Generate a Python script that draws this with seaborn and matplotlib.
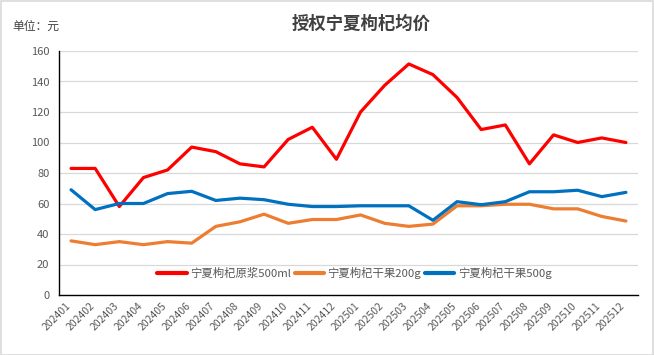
import matplotlib
matplotlib.use("Agg")
import matplotlib.pyplot as plt
import matplotlib.transforms as mtransforms
import seaborn as sns
import pandas as pd
import numpy as np

months = ["202401","202402","202403","202404","202405","202406","202407","202408",
          "202409","202410","202411","202412","202501","202502","202503","202504",
          "202505","202506","202507","202508","202509","202510","202511","202512"]
yuanjiang_500ml = [83, 83, 58, 77, 82, 97, 94, 86, 84, 102, 110, 89,
                   120, 137.5, 151.5, 144.5, 129.5, 108.5, 111.5, 86, 105, 100, 103, 100]
ganguo_200g = [35.5, 33, 35, 33, 35, 34, 45, 48, 53, 47, 49.5, 49.5,
               52.5, 47, 45, 46.5, 58.5, 58.5, 59.5, 59.5, 56.5, 56.5, 51.5, 48.5]
ganguo_500g = [69, 56, 60, 60, 66.5, 68, 62, 63.5, 62.5, 59.5, 58, 58,
               58.5, 58.5, 58.5, 49, 61.2, 59.2, 61.2, 67.7, 67.7, 68.7, 64.5, 67.3]
series_names = ["宁夏枸杞原浆500ml", "宁夏枸杞干果200g", "宁夏枸杞干果500g"]
colors = ["#FF0000", "#ED7D31", "#0070C0"]

sns.set_style("white")
plt.rcParams['font.family'] = ['Noto Sans CJK SC', 'DejaVu Sans']

rows = []
for name, vals in zip(series_names, [yuanjiang_500ml, ganguo_200g, ganguo_500g]):
    for i, (m, v) in enumerate(zip(months, vals)):
        rows.append({"idx": i, "month": m, "value": v, "series": name})
df = pd.DataFrame(rows)

fig = plt.figure(figsize=(6.54, 3.55), dpi=100)
ax = fig.add_axes([59/654, 1-295/355, (638-59)/654, (295-51)/355])

sns.lineplot(data=df, x="idx", y="value", hue="series", hue_order=series_names,
             palette=colors, linewidth=2.3, ax=ax, legend=True)

ax.set_xlim(-0.5, len(months)-0.5)
ax.set_ylim(0, 160)
ax.set_yticks(np.arange(0, 161, 20))
ax.yaxis.grid(True, color="#D9D9D9", linewidth=0.9)
ax.set_axisbelow(True)
ax.set_xlabel("")
ax.set_ylabel("")

for s in ["top", "right"]:
    ax.spines[s].set_visible(False)
for s in ["left", "bottom"]:
    ax.spines[s].set_color("black")
    ax.spines[s].set_linewidth(1.0)

ax.set_xticks(np.arange(len(months)))
ax.set_xticklabels(months, rotation=45, ha="right", rotation_mode="anchor",
                   fontsize=7.5, color="#595959")
ax.set_xticks(np.arange(-0.5, len(months)), minor=True)
ax.tick_params(axis="x", which="major", length=0, pad=4)
ax.tick_params(axis="x", which="minor", length=4, width=1, color="black", direction="out")
ax.tick_params(axis="y", length=4, width=1, color="black", direction="out",
               labelsize=8, labelcolor="#595959", pad=3)
offset = mtransforms.ScaledTranslation(-6/100, 0, fig.dpi_scale_trans)
for lab in ax.get_xticklabels():
    lab.set_transform(lab.get_transform() + offset)

leg = ax.legend(loc="center", bbox_to_anchor=(0.51, 0.092), ncol=3, frameon=False,
                fontsize=8.2, handlelength=2.6, columnspacing=0.3, handletextpad=0.3,
                labelcolor="#595959")
for h in leg.get_lines():
    h.set_linewidth(3)

fig.text(361/654, 1-24/355, "授权宁夏枸杞均价", ha="center", va="center",
         fontsize=12.5, fontweight="bold", color="#404040")
fig.text(12/654, 1-26/355, "单位：元", ha="left", va="center",
         fontsize=8.5, color="#404040")

border = plt.Rectangle((0.001, 0.001), 0.998, 0.997, transform=fig.transFigure,
                       fill=False, edgecolor="#D9D9D9", linewidth=1.2)
fig.patches.append(border)

fig.savefig("out.png", dpi=100)
